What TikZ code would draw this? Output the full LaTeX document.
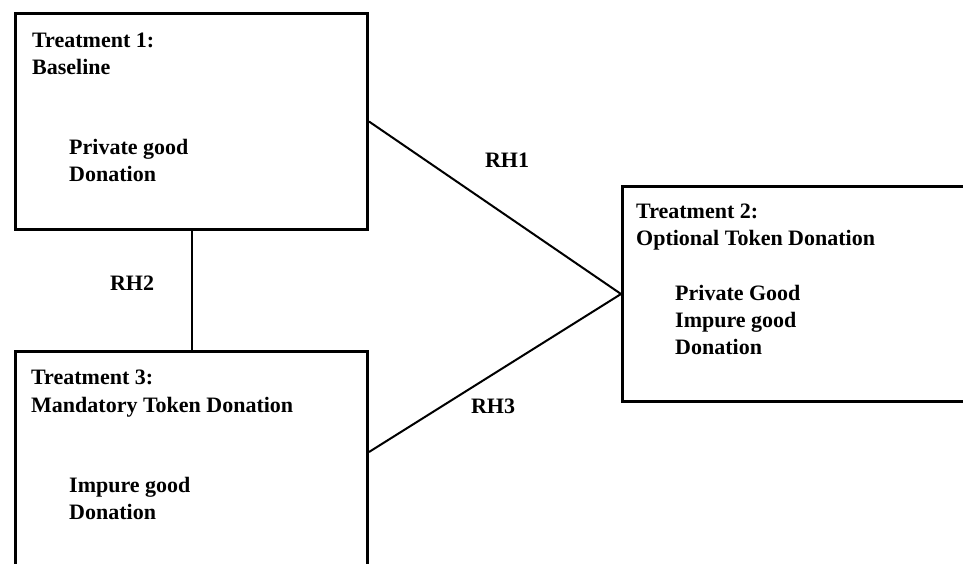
\documentclass[tikz,border=0pt]{standalone}
\usepackage{fontspec}
\setmainfont{Liberation Serif}
\tikzset{
  treat/.style={draw, line width=3pt, rectangle, inner sep=0pt, anchor=north west,
    minimum width=352pt},
  txt/.style={anchor=base west, inner sep=0pt, font=\fontsize{22}{27}\selectfont\bfseries},
  rh/.style={inner sep=0pt, font=\fontsize{22}{27}\selectfont\bfseries},
  link/.style={line width=2pt}
}
\begin{document}
\begin{tikzpicture}[x=1pt,y=-1pt]
  \useasboundingbox (0,0) rectangle (963,563);
  \clip (0,0) rectangle (963,563);
  % treatment boxes
  \node[treat, minimum height=216pt] (box1) at (14,12) {};
  \node[treat, minimum height=215pt] (box2) at (621,185) {};
  \node[treat, minimum height=230pt] (box3) at (14,350) {};
  % texts
  \node[txt] (t1a) at (32,47) {Treatment 1:};
  \node[txt] (t1b) at (32,74) {Baseline};
  \node[txt] (t1c) at (69,154) {Private good};
  \node[txt] (t1d) at (69,181) {Donation};
  \node[txt] (t2a) at (636,218) {Treatment 2:};
  \node[txt] (t2b) at (636,245) {Optional Token Donation};
  \node[txt] (t2c) at (675,300) {Private Good};
  \node[txt] (t2d) at (675,327) {Impure good};
  \node[txt] (t2e) at (675,354) {Donation};
  \node[txt] (t3a) at (31,384) {Treatment 3:};
  \node[txt] (t3b) at (31,412) {Mandatory Token Donation};
  \node[txt] (t3c) at (69,492) {Impure good};
  \node[txt] (t3d) at (69,519) {Donation};
  % links
  \coordinate (b3r) at ([yshift=-102pt]box3.north east);
  \begin{scope}[link]
    \draw (box1.east) -- (box2.west);
    \draw (box1.south) -- (box3.north);
    \draw (b3r) -- (box2.west);
  \end{scope}
  \node[rh] (rh1) at (507,160) {RH1};
  \node[rh] (rh2) at (132,283) {RH2};
  \node[rh] (rh3) at (493,406) {RH3};
\end{tikzpicture}
\end{document}
